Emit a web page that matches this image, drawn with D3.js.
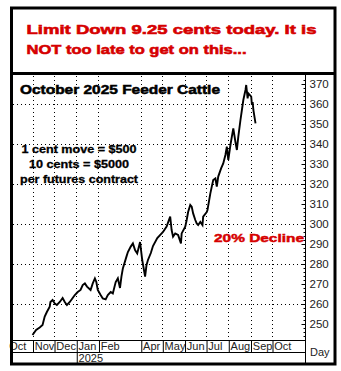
<!DOCTYPE html>
<html>
<head>
<meta charset="utf-8">
<script src="https://cdn.jsdelivr.net/npm/d3@7"></script>
<style>
  html, body { margin: 0; padding: 0; background: #fff; }
  svg { display: block; }
  text { font-family: "Liberation Sans", Arial, sans-serif; }
</style>
</head>
<body>
<script>
// October 2025 Feeder Cattle futures, daily settlements (cents/lb)
const dates = [
  "2024-11-01","2024-11-06","2024-11-11","2024-11-15","2024-11-18","2024-11-21","2024-11-25","2024-11-26","2024-11-29",
  "2024-12-02","2024-12-05","2024-12-09","2024-12-13","2024-12-16","2024-12-19","2024-12-23","2024-12-27","2024-12-30",
  "2025-01-03","2025-01-07","2025-01-10","2025-01-13","2025-01-16","2025-01-21","2025-01-24","2025-01-27","2025-01-29","2025-01-31",
  "2025-02-04","2025-02-07","2025-02-11","2025-02-14","2025-02-18","2025-02-21","2025-02-25","2025-02-28",
  "2025-03-03","2025-03-05","2025-03-07","2025-03-12","2025-03-14","2025-03-18","2025-03-21","2025-03-24","2025-03-27","2025-03-31",
  "2025-04-03","2025-04-07","2025-04-09","2025-04-11","2025-04-15","2025-04-18","2025-04-24",
  "2025-05-02","2025-05-07","2025-05-12","2025-05-14","2025-05-16","2025-05-19","2025-05-23","2025-05-27","2025-05-28",
  "2025-06-02","2025-06-04","2025-06-06","2025-06-09","2025-06-11","2025-06-13","2025-06-16","2025-06-18","2025-06-20","2025-06-23","2025-06-26","2025-06-27",
  "2025-07-02","2025-07-03","2025-07-07","2025-07-09","2025-07-11","2025-07-14","2025-07-16","2025-07-18","2025-07-22","2025-07-25","2025-07-28","2025-07-30",
  "2025-08-01","2025-08-04","2025-08-06","2025-08-08","2025-08-11","2025-08-13","2025-08-15","2025-08-18","2025-08-20","2025-08-22","2025-08-25","2025-08-26","2025-08-28","2025-08-29",
  "2025-09-02","2025-09-03","2025-09-04","2025-09-05","2025-09-08"
];
const prices = [
  244.5,247,248.3,249.5,253.7,256,258.7,261,262,
  260.3,259.5,261,263,261,259.5,261,263,264.5,
  266,267,269.5,270.3,268.7,267,270.3,272.8,271,267,
  264.5,262.8,262.3,264.5,266,265.3,271,272.8,
  268,273.7,277.8,283.7,286,288.7,290.3,287,285.3,291,
  282,273.7,279.5,282,285.5,289,293,
  296,298.7,303.7,297,293.7,295.3,294.5,290.3,295.3,
  298.7,302,306,309.5,308.7,305.3,302,300.3,299.5,301,299.5,303.7,
  306,307,315.3,318.7,322,322.8,318.7,323.7,327.8,330.3,334.5,338.7,
  332,339.5,343.7,347.8,341,337,343.7,352,357,362,367,369.5,362.8,365.3,
  363.7,359.5,361,357,350.3
];

// Axis labels
const monthTickDates = ["2024-10-01","2024-11-01","2024-12-01","2025-01-01","2025-02-01","2025-04-01","2025-05-01","2025-06-01","2025-07-01","2025-08-01","2025-09-01","2025-10-01"];
const monthTickLabels = ["Oct","Nov","Dec","Jan","Feb","Apr","May","Jun","Jul","Aug","Sep","Oct"];
const yearTickDates = ["2025-01-01"];
const yearTickLabels = ["2025"];
const priceTicks = [250,260,270,280,290,300,310,320,330,340,350,360,370];
const gridPrices = [260,280,300,320,340,360];

const headline = ["Limit Down 9.25 cents today. It is", "NOT too late to get on this..."];
const chartTitle = "October 2025 Feeder Cattle";
const noteLines = ["1 cent move = $500", "10 cents = $5000", "per futures contract"];
const declineNote = "20% Decline";

const parse = d3.utcParse("%Y-%m-%d");
const series = dates.map((d, i) => ({ date: parse(d), price: prices[i] }));

const W = 341, H = 371;
const plot = { left: 12, right: 305, top: 75, bottom: 340 };

const x = d3.scaleUtc()
  .domain([parse("2024-10-02"), parse("2025-11-16")])
  .range([11, plot.right]);
const y = d3.scaleLinear()
  .domain([242, 374.5])
  .range([plot.bottom, plot.top]);

const svg = d3.select("body").append("svg")
  .attr("width", W).attr("height", H);

svg.append("rect").attr("width", W).attr("height", H).attr("fill", "#fff");

// Headline
const red = "#d60000";
svg.append("g").selectAll("text").data(headline).join("text")
  .attr("x", 26.5)
  .attr("y", (d, i) => 34 + i * 20)
  .attr("fill", red)
  .attr("stroke", red).attr("stroke-width", 0.6)
  .attr("font-size", 13.5)
  .attr("font-weight", "bold")
  .attr("textLength", (d, i) => i === 0 ? 290 : 220)
  .attr("lengthAdjust", "spacingAndGlyphs")
  .text(d => d);

// Dotted grid
const grid = svg.append("g").attr("stroke", "#000").attr("stroke-width", 1)
  .attr("stroke-dasharray", "1,3");
grid.selectAll("line.h").data(gridPrices).join("line")
  .attr("class", "h")
  .attr("x1", plot.left + 1).attr("x2", plot.right)
  .attr("y1", d => Math.round(y(d)) + 0.5).attr("y2", d => Math.round(y(d)) + 0.5);
grid.selectAll("line.v").data(monthTickDates.slice(1)).join("line")
  .attr("class", "v")
  .attr("x1", d => Math.round(x(parse(d))) + 0.5).attr("x2", d => Math.round(x(parse(d))) + 0.5)
  .attr("y1", plot.top + 1).attr("y2", plot.bottom);

// Chart title and notes
svg.append("text")
  .attr("x", 20).attr("y", 93.5)
  .attr("font-size", 12).attr("font-weight", "bold")
  .attr("stroke", "#000").attr("stroke-width", 0.5)
  .attr("textLength", 200).attr("lengthAdjust", "spacingAndGlyphs")
  .text(chartTitle);

const noteWidths = [115, 100, 118];
svg.append("g").selectAll("text").data(noteLines).join("text")
  .attr("x", 79).attr("y", (d, i) => 153 + i * 15)
  .attr("text-anchor", "middle")
  .attr("font-size", 10.5).attr("font-weight", "bold")
  .attr("stroke", "#000").attr("stroke-width", 0.3)
  .attr("textLength", (d, i) => noteWidths[i]).attr("lengthAdjust", "spacingAndGlyphs")
  .text(d => d);

svg.append("text")
  .attr("x", 214).attr("y", 242)
  .attr("fill", red).attr("stroke", red).attr("stroke-width", 0.45)
  .attr("font-size", 11).attr("font-weight", "bold")
  .attr("textLength", 90).attr("lengthAdjust", "spacingAndGlyphs")
  .text(declineNote);

// Price line
const line = d3.line().x(d => x(d.date)).y(d => y(d.price));
svg.append("path").datum(series)
  .attr("d", line)
  .attr("fill", "none")
  .attr("stroke", "#000")
  .attr("stroke-width", 1.9)
  .attr("stroke-linejoin", "miter");

// Right price axis: minor ticks, major ticks, labels
const axisX = plot.right + 0.5;
const minorTicks = d3.range(244, 374, 2);
const minorAxis = svg.append("g").attr("transform", `translate(${axisX},0)`)
  .call(d3.axisLeft(y).tickValues(minorTicks).tickSize(2).tickFormat(""));
const majorAxis = svg.append("g").attr("transform", `translate(${axisX},0)`)
  .call(d3.axisLeft(y).tickValues(priceTicks).tickSize(4).tickFormat(""));
const labelAxis = svg.append("g").attr("transform", `translate(${axisX},0)`)
  .call(d3.axisRight(y).tickValues(priceTicks).tickSize(0).tickPadding(4));
[minorAxis, majorAxis, labelAxis].forEach(g => {
  g.select(".domain").remove();
  g.selectAll("line").attr("stroke", "#000");
});
labelAxis.selectAll("text")
  .attr("font-size", 11.5).attr("fill", "#222")
  .attr("font-family", "'Liberation Sans', Arial, sans-serif");

// Date axis: month row and year row with separators
const monthAxis = svg.append("g").attr("transform", `translate(0,${plot.bottom})`)
  .call(d3.axisBottom(x).tickValues(monthTickDates.map(parse)).tickSize(12)
    .tickFormat((d, i) => monthTickLabels[i]));
monthAxis.select(".domain").remove();
monthAxis.selectAll("line").attr("stroke", "#000").attr("transform", "translate(0.5,0)");
monthAxis.selectAll("text")
  .attr("text-anchor", "start").attr("x", (d, i) => i === 0 ? -1.5 : 1.8).attr("y", 10).attr("dy", 0)
  .attr("font-size", 11).attr("fill", "#222")
  .attr("font-family", "'Liberation Sans', Arial, sans-serif");

const yearAxis = svg.append("g").attr("transform", `translate(0,${plot.bottom + 12})`)
  .call(d3.axisBottom(x).tickValues(yearTickDates.map(parse)).tickSize(12)
    .tickFormat((d, i) => yearTickLabels[i]));
yearAxis.select(".domain").remove();
yearAxis.selectAll("line").attr("stroke", "#000").attr("transform", "translate(0.5,0)");
yearAxis.selectAll("text")
  .attr("text-anchor", "start").attr("x", 1.8).attr("y", 10).attr("dy", 0)
  .attr("font-size", 11).attr("fill", "#222")
  .attr("font-family", "'Liberation Sans', Arial, sans-serif");

// Axis frame lines
const frame = svg.append("g").attr("stroke", "#000").attr("stroke-width", 1);
frame.append("line").attr("x1", 11).attr("x2", axisX).attr("y1", plot.bottom + 0.5).attr("y2", plot.bottom + 0.5);
frame.append("line").attr("x1", 11).attr("x2", axisX).attr("y1", plot.bottom + 12.5).attr("y2", plot.bottom + 12.5);
frame.append("line").attr("x1", axisX).attr("x2", axisX).attr("y1", plot.top).attr("y2", 364);

svg.append("text")
  .attr("x", 310).attr("y", 355.5)
  .attr("font-size", 11).attr("fill", "#222")
  .text("Day");

// Outer border and header divider
svg.append("rect")
  .attr("x", 11.5).attr("y", 8).attr("width", 323.5).attr("height", 356)
  .attr("fill", "none").attr("stroke", "#000").attr("stroke-width", 3);
svg.append("line")
  .attr("x1", 11.5).attr("x2", 335).attr("y1", 73.5).attr("y2", 73.5)
  .attr("stroke", "#000").attr("stroke-width", 3);
</script>
</body>
</html>
